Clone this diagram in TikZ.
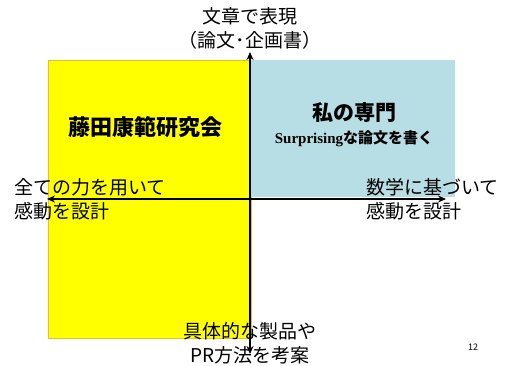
\documentclass[tikz,border=0pt]{standalone}
\usepackage{fontspec}
\setmainfont{Noto Sans CJK JP}
\newfontfamily\latinbold{Liberation Serif}
\usepackage{xcolor}
\usetikzlibrary{arrows.meta,positioning}
\definecolor{quadyellow}{RGB}{255,255,0}
\definecolor{quadedge}{RGB}{236,190,40}
\definecolor{quadblue}{RGB}{183,222,228}

\begin{document}
\begin{tikzpicture}[
            x=1pt, y=-1pt,
            >={Stealth[length=8pt,width=7pt]},
            axis_style/.style={<->, line width=1.8pt},
            axis_label/.style={font=\fontsize{19}{24}\selectfont, inner sep=0pt},
            quad_title/.style={font=\fontsize{22}{26}\selectfont\bfseries, inner sep=0pt}
        ]
        \useasboundingbox (0,0) rectangle (511,365);

        % Quadrants
        \fill[quadyellow, draw=quadedge, line width=0.8pt] (48,60) rectangle (251,338);
        \fill[quadblue] (251,60) rectangle (455,197);

        % Axis end points
        \coordinate (top) at (250,52);
        \coordinate (bottom) at (250,354);
        \coordinate (left) at (47,199);
        \coordinate (right) at (446,199);

        % Axes
        \draw[axis_style] (bottom) -- (top);
        \draw[axis_style] (left) -- (right);

        % Axis labels
        \node[axis_label, align=center] (toplabel) at (250,28) {文章で表現\\（論文･企画書）};
        \node[axis_label, align=center] (bottomlabel) at (250,343) {具体的な製品や\\PR方法を考案};
        \node[axis_label, align=left, anchor=west] (leftlabel) at (14,199) {全ての力を用いて\\感動を設計};
        \node[axis_label, align=left, anchor=west] (rightlabel) at (366,199) {数学に基づいて\\感動を設計};

        % Quadrant titles
        \node[quad_title] (fujita) at (145,127) {藤田康範研究会};
        \node[quad_title, font=\fontsize{21}{25}\selectfont\bfseries] (mine) at (354,113) {私の専門};
        \node[inner sep=0pt, below=7pt of mine, font=\fontsize{15}{18}\selectfont\bfseries] (theme)
            {{\latinbold\bfseries Surprising}な論文を書く};

        % Page number
        \node[font=\fontsize{9}{10}\selectfont] (pagenum) at (473,347) {12};
        \end{tikzpicture}
\end{document}
